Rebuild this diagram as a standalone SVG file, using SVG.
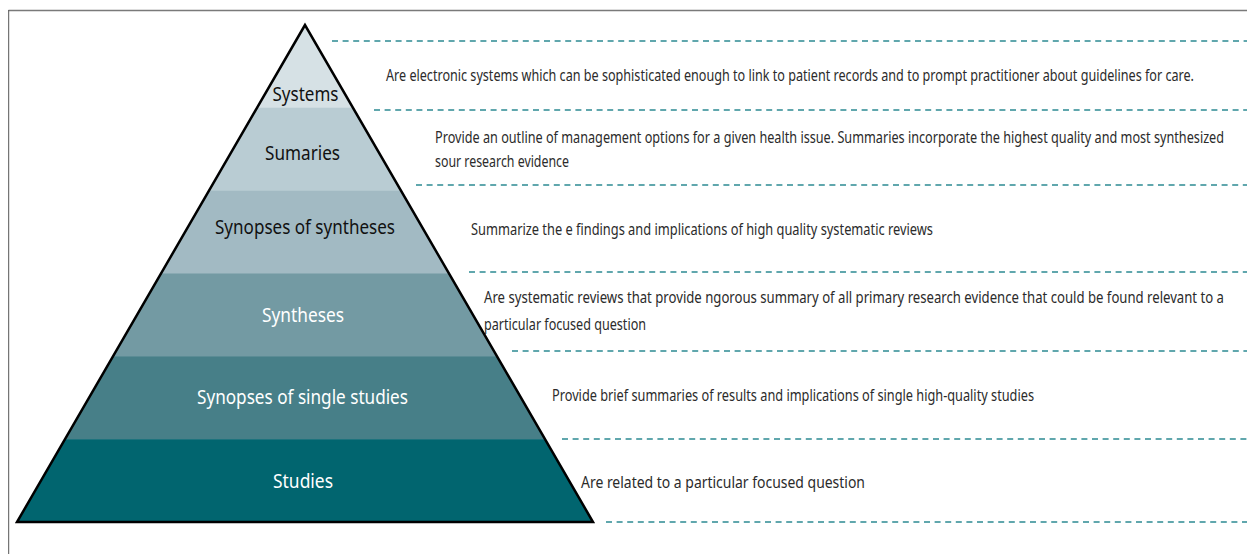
<svg xmlns="http://www.w3.org/2000/svg" width="1247" height="554" viewBox="0 0 1247 554">
<style>
.lbl{font-family:"Noto Sans","Open Sans","DejaVu Sans",sans-serif;font-size:20px;text-anchor:middle}
.dk{fill:#111111}
.lt{fill:#ffffff}
.desc{font-family:"Noto Sans","Open Sans","DejaVu Sans",sans-serif;font-size:17px;fill:#2b2b2b}
.sep{stroke:#2c8a93;stroke-width:1.3;stroke-dasharray:6 4.6;fill:none}
</style>
<rect x="0" y="0" width="1247" height="554" fill="#ffffff"/>
<g id="frame">
<line x1="8.5" y1="10.5" x2="1247" y2="10.5" stroke="#7a7a7a" stroke-width="1.6"/>
<line x1="8.7" y1="10" x2="8.7" y2="554" stroke="#555555" stroke-width="1"/>
</g>
<g id="tier-systems">
<polygon points="305,25 257,108.3 353,108.3" fill="#d6e1e5"/>
<text class="lbl dk" transform="translate(305.5,101) scale(0.78,1)" x="0" y="0" textLength="84.6" lengthAdjust="spacingAndGlyphs">Systems</text>
<text class="desc" transform="translate(386,81) scale(0.66,1)" x="0" y="0" textLength="1224.2" lengthAdjust="spacingAndGlyphs">Are electronic systems which can be sophisticated enough to link to patient records and to prompt practitioner about guidelines for care.</text>
</g>
<g id="tier-sumaries">
<polygon points="257,107.8 353,107.8 401,191.2 209,191.2" fill="#b9ccd3"/>
<text class="lbl dk" transform="translate(302.5,160) scale(0.78,1)" x="0" y="0" textLength="96.2" lengthAdjust="spacingAndGlyphs">Sumaries</text>
<text class="desc" transform="translate(435,143) scale(0.66,1)" x="0" y="0" textLength="1195.5" lengthAdjust="spacingAndGlyphs">Provide an outline of management options for a given health issue. Summaries incorporate the highest quality and most synthesized</text>
<text class="desc" transform="translate(435,167) scale(0.66,1)" x="0" y="0" textLength="203" lengthAdjust="spacingAndGlyphs">sour research evidence</text>
</g>
<g id="tier-synopses-of-syntheses">
<polygon points="209,190.7 401,190.7 449,274 161,274" fill="#a2bac3"/>
<text class="lbl dk" transform="translate(305,234) scale(0.78,1)" x="0" y="0" textLength="230.8" lengthAdjust="spacingAndGlyphs">Synopses of syntheses</text>
<text class="desc" transform="translate(471,235) scale(0.66,1)" x="0" y="0" textLength="700" lengthAdjust="spacingAndGlyphs">Summarize the e findings and implications of high quality systematic reviews</text>
</g>
<g id="tier-syntheses">
<polygon points="161,273.5 449,273.5 497,356.8 113,356.8" fill="#739aa3"/>
<text class="lbl lt" transform="translate(303,322) scale(0.78,1)" x="0" y="0" textLength="105.1" lengthAdjust="spacingAndGlyphs">Syntheses</text>
<text class="desc" transform="translate(484,303) scale(0.66,1)" x="0" y="0" textLength="1121.2" lengthAdjust="spacingAndGlyphs">Are systematic reviews that provide ngorous summary of all primary research evidence that could be found relevant to a</text>
<text class="desc" transform="translate(484,330) scale(0.66,1)" x="0" y="0" textLength="245.5" lengthAdjust="spacingAndGlyphs">particular focused question</text>
</g>
<g id="tier-synopses-of-single-studies">
<polygon points="113,356.3 497,356.3 545,439.7 65,439.7" fill="#477f88"/>
<text class="lbl lt" transform="translate(302.5,404) scale(0.78,1)" x="0" y="0" textLength="270.5" lengthAdjust="spacingAndGlyphs">Synopses of single studies</text>
<text class="desc" transform="translate(552,401) scale(0.66,1)" x="0" y="0" textLength="730.3" lengthAdjust="spacingAndGlyphs">Provide brief summaries of results and implications of single high-quality studies</text>
</g>
<g id="tier-studies">
<polygon points="65,439.2 545,439.2 593,522 17,522" fill="#01656f"/>
<text class="lbl lt" transform="translate(303,488) scale(0.78,1)" x="0" y="0" textLength="76.9" lengthAdjust="spacingAndGlyphs">Studies</text>
<text class="desc" transform="translate(581,488) scale(0.66,1)" x="0" y="0" textLength="430.3" lengthAdjust="spacingAndGlyphs">Are related to a particular focused question</text>
</g>
<g id="pyramid-outline">
<polygon points="305,25 17,522 593,522" fill="none" stroke="#000000" stroke-width="2.5" stroke-linejoin="miter"/>
</g>
<g id="connectors">
<line class="sep" x1="332" y1="41" x2="1247" y2="41"/>
<line class="sep" x1="374" y1="110" x2="1247" y2="110"/>
<line class="sep" x1="416" y1="185" x2="1247" y2="185"/>
<line class="sep" x1="469" y1="272" x2="1247" y2="272"/>
<line class="sep" x1="512" y1="351" x2="1247" y2="351"/>
<line class="sep" x1="562" y1="439" x2="1247" y2="439"/>
<line class="sep" x1="606" y1="522" x2="1247" y2="522"/>
</g>
</svg>
